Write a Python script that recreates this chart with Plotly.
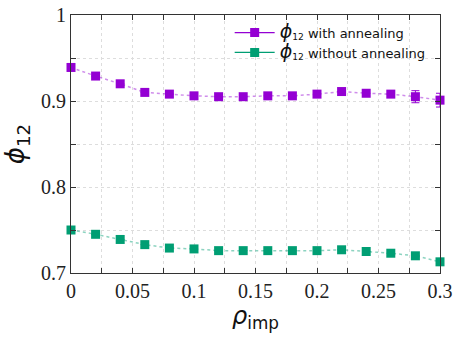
import plotly.graph_objects as go

# impurity density
rho_imp = [0.00, 0.02, 0.04, 0.06, 0.08, 0.10, 0.12, 0.14, 0.16,
           0.18, 0.20, 0.22, 0.24, 0.26, 0.28, 0.30]

# phi_12 with annealing and its uncertainty
phi_anneal = [0.939, 0.929, 0.920, 0.910, 0.908, 0.906, 0.905, 0.905, 0.906,
              0.906, 0.908, 0.911, 0.909, 0.908, 0.905, 0.901]
err_anneal = [0.0, 0.0, 0.0, 0.0, 0.0, 0.0, 0.0, 0.0, 0.0,
              0.0, 0.0, 0.0, 0.0, 0.0, 0.007, 0.008]

# phi_12 without annealing
phi_plain = [0.750, 0.745, 0.739, 0.733, 0.729, 0.728, 0.726, 0.726, 0.726,
             0.726, 0.726, 0.727, 0.725, 0.723, 0.720, 0.713]
err_plain = [0.0] * 16

# tick positions (labelled ones carry text, the rest stay blank)
x_ticks = [0.0, 0.025, 0.05, 0.075, 0.1, 0.125, 0.15, 0.175,
           0.2, 0.225, 0.25, 0.275, 0.3]
x_labels = ["0", "", "0.05", "", "0.1", "", "0.15", "",
            "0.2", "", "0.25", "", "0.3"]
y_ticks = [0.7, 0.75, 0.8, 0.85, 0.9, 0.95, 1.0]
y_labels = ["0.7", "", "0.8", "", "0.9", "", "1"]

PURPLE = "#9400D3"
GREEN = "#009E73"
PHI = '<span style="font-size:19px"><i>ϕ</i></span><sub>12</sub> '

fig = go.Figure()

for y, e, col, fade, name in [
    (phi_anneal, err_anneal, PURPLE, "rgba(148,0,211,0.45)", "with annealing"),
    (phi_plain, err_plain, GREEN, "rgba(0,158,115,0.45)", "without annealing"),
]:
    # data with dotted connecting line
    fig.add_trace(go.Scatter(
        x=rho_imp, y=y, mode="lines+markers",
        line=dict(color=fade, width=1.5, dash="dot"),
        marker=dict(symbol="square", size=9, color=col),
        error_y=dict(type="data", array=e, color=col, thickness=1, width=4),
        showlegend=False, cliponaxis=False,
    ))
    # legend entry
    fig.add_trace(go.Scatter(
        x=[None], y=[None], mode="lines+markers",
        line=dict(color=col, width=1.2),
        marker=dict(symbol="square", size=9, color=col),
        name=PHI + name,
    ))

FRAME = "#333333"
axis_common = dict(
    showline=True, linecolor=FRAME, linewidth=1, mirror="allticks",
    ticks="inside", ticklen=5, tickwidth=1, tickcolor=FRAME,
    tickfont=dict(family="Liberation Serif", size=20, color="#222222"),
    showgrid=True, gridcolor="#dddddd", griddash="dot", gridwidth=1,
    zeroline=False, automargin=False,
)

fig.update_layout(
    template="simple_white",
    width=455, height=338,
    margin=dict(l=71, r=15, t=15, b=65, autoexpand=False),
    paper_bgcolor="white", plot_bgcolor="white",
    xaxis=dict(
        range=[0, 0.3], tickmode="array", tickvals=x_ticks, ticktext=x_labels,
        title=dict(text="<i>ρ</i><sub>imp</sub>",
                   font=dict(family="DejaVu Sans", size=24, color="#111111"),
                   standoff=6),
        **axis_common,
    ),
    yaxis=dict(
        range=[0.7, 1.0], tickmode="array", tickvals=y_ticks, ticktext=y_labels,
        title=dict(text="<i>ϕ</i><sub>12</sub>",
                   font=dict(family="DejaVu Sans", size=26, color="#111111"),
                   standoff=8),
        **axis_common,
    ),
    legend=dict(x=0.43, y=0.99, xanchor="left", yanchor="top",
                bgcolor="rgba(0,0,0,0)", tracegroupgap=0,
                font=dict(family="DejaVu Sans", size=13, color="#111111"),
                itemwidth=40),
)

fig.write_html("out.html")
